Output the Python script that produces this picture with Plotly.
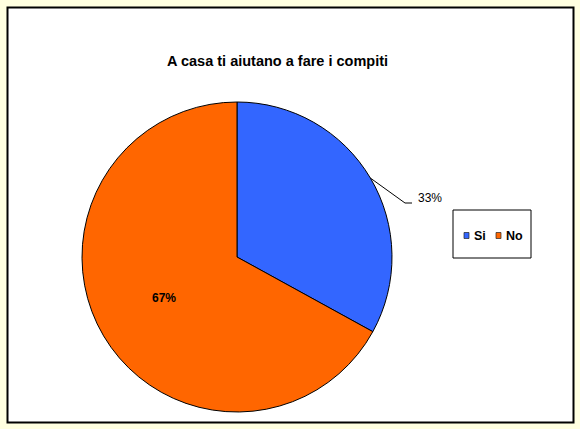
import numpy as np
import plotly.graph_objects as go

# Chart data
labels = ["Si", "No"]
values = [33, 67]
colors = ["#3366FF", "#FF6600"]
title = "A casa ti aiutano a fare i compiti"

W, H = 580, 429
CX, CY, R = 237, 257, 155  # pie centre / radius in pixels


def px(x):
    return x / W


def py(y):
    return 1 - y / H


fig = go.Figure(go.Pie(
    labels=labels,
    values=values,
    marker=dict(colors=colors, line=dict(color="black", width=1)),
    sort=False,
    direction="clockwise",
    rotation=0,
    textinfo="none",
    hoverinfo="label+percent",
    domain=dict(x=[px(CX - R), px(CX + R)], y=[py(CY + R), py(CY - R)]),
))

# mid angle of each slice (clockwise from 12 o'clock)
shares = np.array(values) / sum(values)
ends = np.cumsum(shares) * 360
mids = np.radians(ends - shares * 180)

annotations = []
shapes = [dict(type="rect", xref="paper", yref="paper",
               x0=px(7.5), x1=px(573.5), y0=py(422.5), y1=py(7.5),
               fillcolor="white", line=dict(color="black", width=2), layer="below")]

# first slice: label outside with leader line
a = mids[0]
ex, ey = CX + R * np.sin(a), CY - R * np.cos(a)
lx, ly = 405, 203
shapes.append(dict(type="path", xref="paper", yref="paper",
                   path=f"M {px(ex)},{py(ey)} L {px(lx)},{py(ly)} L {px(lx + 7)},{py(ly)}",
                   line=dict(color="black", width=1)))
annotations.append(dict(x=px(lx + 11), y=py(ly - 5), xref="paper", yref="paper",
                        text=f"{values[0]}%", showarrow=False,
                        xanchor="left", yanchor="middle",
                        font=dict(family="Liberation Sans", size=12, color="black")))

# second slice: label inside
a = mids[1]
annotations.append(dict(x=px(CX + 0.55 * R * np.sin(a)), y=py(CY - 0.55 * R * np.cos(a) - 2),
                        xref="paper", yref="paper",
                        text=f"<b>{values[1]}%</b>", showarrow=False,
                        xanchor="center", yanchor="middle",
                        font=dict(family="Liberation Sans", size=12, color="black")))

annotations.append(dict(x=px(277), y=py(61), xref="paper", yref="paper",
                        text=f"<b>{title}</b>", showarrow=False,
                        xanchor="center", yanchor="middle",
                        font=dict(family="Liberation Sans", size=14.5, color="black")))

# legend box, drawn by hand to get the compact Excel look
shapes.append(dict(type="rect", xref="paper", yref="paper",
                   x0=px(453), x1=px(531), y0=py(258), y1=py(210),
                   fillcolor="white", line=dict(color="black", width=1)))
leg_x = [464, 496]
for lab, col, x0 in zip(labels, colors, leg_x):
    shapes.append(dict(type="rect", xref="paper", yref="paper",
                       x0=px(x0), x1=px(x0 + 5), y0=py(238.5), y1=py(232.5),
                       fillcolor=col, line=dict(color="#222222", width=0.7)))
    annotations.append(dict(x=px(x0 + 8), y=py(235.5), xref="paper", yref="paper",
                            text=f"<b>{lab}</b>", showarrow=False,
                            xanchor="left", yanchor="middle",
                            font=dict(family="Liberation Sans", size=12.5, color="black")))

fig.update_layout(
    width=W, height=H,
    margin=dict(l=0, r=0, t=0, b=0),
    paper_bgcolor="#FFFFE0",
    plot_bgcolor="white",
    shapes=shapes,
    annotations=annotations,
    showlegend=False,
)

fig.write_html("out.html", config={"displayModeBar": False},
               post_script="document.body.style.margin='0';")
